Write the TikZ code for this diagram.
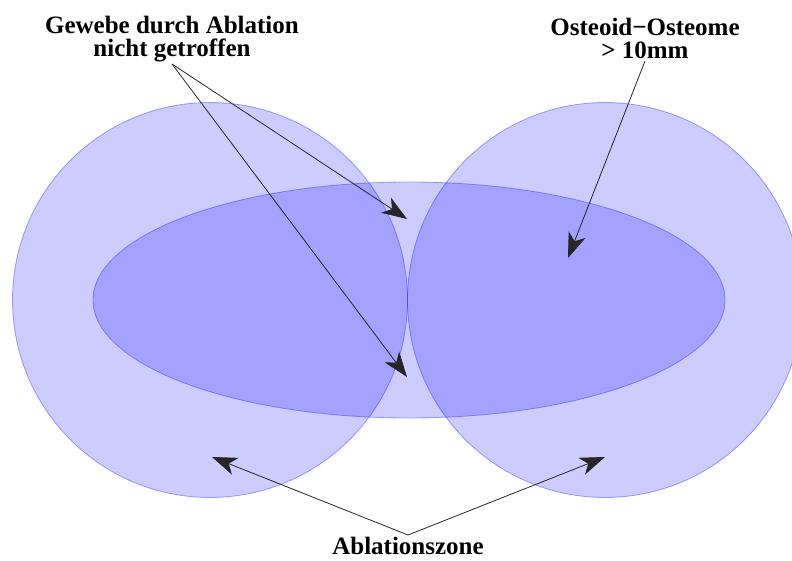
\documentclass[tikz,border=0pt]{standalone}
\usepackage{fontspec}
\setmainfont{Liberation Serif}
\usetikzlibrary{arrows.meta}

\begin{document}
\begin{tikzpicture}[
		x=1pt, y=-1pt,
		zone/.style={
			fill=blue, fill opacity=0.2, draw=blue, draw opacity=0.35,
			line width=0.8pt
		},
		label/.style={
			font=\fontsize{25}{23}\selectfont\bfseries, align=center,
			inner sep=2pt
		},
		arrow/.style={-{Stealth[length=25pt, width=18pt, inset=7pt]}, line width=0.8pt, black!85}
		]
		
		\useasboundingbox (0,0) rectangle (792,561);
		\clip (0,0) rectangle (792,561);
		
		% ablation zones and tumour
		\path[zone] (210,300) circle[radius=197.5];
		\path[zone] (605,300) circle[radius=197.5];
		\path[zone] (409,300) ellipse[x radius=316, y radius=118];
		
		% labels
		\node[label, anchor=south] (gewebe) at (172,64)
		{Gewebe durch Ablation\\nicht getroffen};
		\node[label, anchor=south] (osteom) at (645,61)
		{Osteoid\textminus Osteome\\\textgreater{} 10mm};
		\node[label, anchor=north] (zone) at (408,535) {Ablationszone};
		
		% arrow tips
		\coordinate (gapTop) at (407,219);
		\coordinate (gapBot) at (407,377);
		\coordinate (tumour) at (568,258);
		\coordinate (zoneL) at (212,457);
		\coordinate (zoneR) at (605,457);
		
		\draw[arrow] (gewebe.south) -- (gapTop);
		\draw[arrow] (gewebe.south) -- (gapBot);
		\draw[arrow] (osteom.south) -- (tumour);
		\draw[arrow] (zone.north) -- (zoneL);
		\draw[arrow] (zone.north) -- (zoneR);
		
	\end{tikzpicture}
\end{document}
